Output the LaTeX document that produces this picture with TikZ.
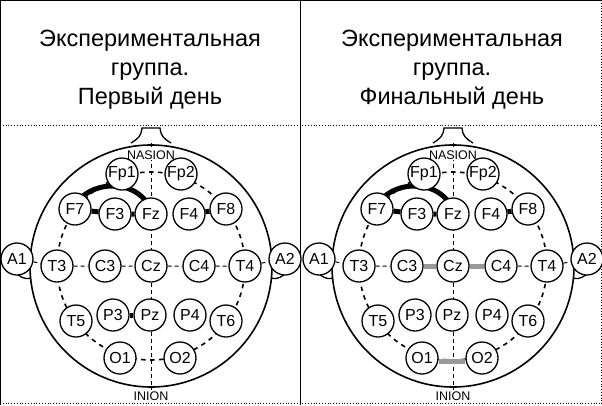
\documentclass[tikz,border=0pt]{standalone}
\usepackage{fontspec}
\setmainfont{Liberation Sans}
\begin{document}
\begin{tikzpicture}[x=1pt,y=-1pt,
  el/.style={circle,draw,line width=1.3pt,fill=white,minimum size=32pt,inner sep=0pt,font=\fontsize{16}{16}\selectfont},
  blk/.style={line width=5pt,black},
  gry/.style={line width=5pt,gray!80},
  dsh/.style={line width=1.6pt,dash pattern=on 4.5pt off 4.5pt},
  ttl/.style={align=center,font=\fontsize{23.5}{29}\selectfont}]
\useasboundingbox (0,0) rectangle (602,405);
\draw[line width=1pt] (0.5,0.5) -- (601.5,0.5);
\draw[line width=1pt] (0.5,0) -- (0.5,405);
\draw[line width=1pt] (300,0) -- (300,405);
\draw[dotted,line width=0.8pt] (601.5,0) -- (601.5,405);
\draw[dotted,line width=0.8pt] (0,125) -- (602,125);
\draw[dotted,line width=0.8pt] (0,403.5) -- (602,403.5);
\node[ttl] (t1) at (150,70) {Экспериментальная\\группа.\\Первый день};
\node[ttl] (t2) at (452,70) {Экспериментальная\\группа.\\Финальный день};
\foreach \s/\p in {0/L,302/R}{
\begin{scope}[xshift=\s]
 % nose
 \draw[line width=1.3pt,fill=white] (131,143) .. controls (139,138) and (141,136) .. (142,128) -- (160,128) .. controls (161,136) and (163,138) .. (171,143);
 % ears
 \draw[line width=1.3pt,fill=white] (15,272) .. controls (24,282) and (36,280) .. (35,270) -- (30,250);
 \draw[line width=1.3pt,fill=white] (287,272) .. controls (278,282) and (266,280) .. (267,270) -- (272,250);
 \draw[line width=1.6pt,fill=white] (151,266) circle (121);
 \draw[dsh] (151,266) circle (94);
 \draw[line width=1pt,dash pattern=on 4pt off 3pt] (151,143) -- (151,390);
 \node[el] (A1\p) at (17,259) {A1};
 \node[el] (A2\p) at (285,259) {A2};
 \node[font=\fontsize{12.5}{12.5}\selectfont,fill=white,inner sep=1pt] (N\p) at (151,155) {NASION};
 \node[font=\fontsize{12.5}{12.5}\selectfont,fill=white,inner sep=1pt] (I\p) at (151,396) {INION};
\end{scope}}
\foreach \s/\p in {0/L,302/R}{
\begin{scope}[xshift=\s]
 \draw[blk] (83,196) .. controls (100,182) and (130,182) .. (145,200);
 \node[el] (Fp1\p) at (122,174) {Fp1};
 \node[el] (Fp2\p) at (181,174) {Fp2};
 \node[el] (F7\p) at (75,209) {F7};
 \node[el] (F3\p) at (115,214) {F3};
 \node[el] (Fz\p) at (151,214) {Fz};
 \node[el] (F4\p) at (189,214) {F4};
 \node[el] (F8\p) at (226,209) {F8};
 \node[el] (T3\p) at (57,266) {T3};
 \node[el] (C3\p) at (105,266) {C3};
 \node[el] (Cz\p) at (151,266) {Cz};
 \node[el] (C4\p) at (199,266) {C4};
 \node[el] (T4\p) at (245,266) {T4};
 \node[el] (T5\p) at (76,321) {T5};
 \node[el] (P3\p) at (113,315) {P3};
 \node[el] (Pz\p) at (150,315) {Pz};
 \node[el] (P4\p) at (190,315) {P4};
 \node[el] (T6\p) at (226,321) {T6};
 \node[el] (O1\p) at (120,358) {O1};
 \node[el] (O2\p) at (180,358) {O2};
\end{scope}}
\foreach \p in {L,R}{
 \draw[line width=1pt,dash pattern=on 4pt off 3pt] (A1\p) -- (T3\p) (T3\p) -- (C3\p) (C3\p) -- (Cz\p) (Cz\p) -- (C4\p) (C4\p) -- (T4\p) (T4\p) -- (A2\p);
 \draw[blk] (F7\p) -- (F3\p) (F3\p) -- (Fz\p) (F4\p) -- (F8\p);
}
\draw[blk] (P3L) -- (PzL);
\draw[gry] (C3R) -- (CzR) (CzR) -- (C4R);
\draw[gry] ([yshift=-3pt]O1R.east) -- ([yshift=-3pt]O2R.west);
\end{tikzpicture}
\end{document}
